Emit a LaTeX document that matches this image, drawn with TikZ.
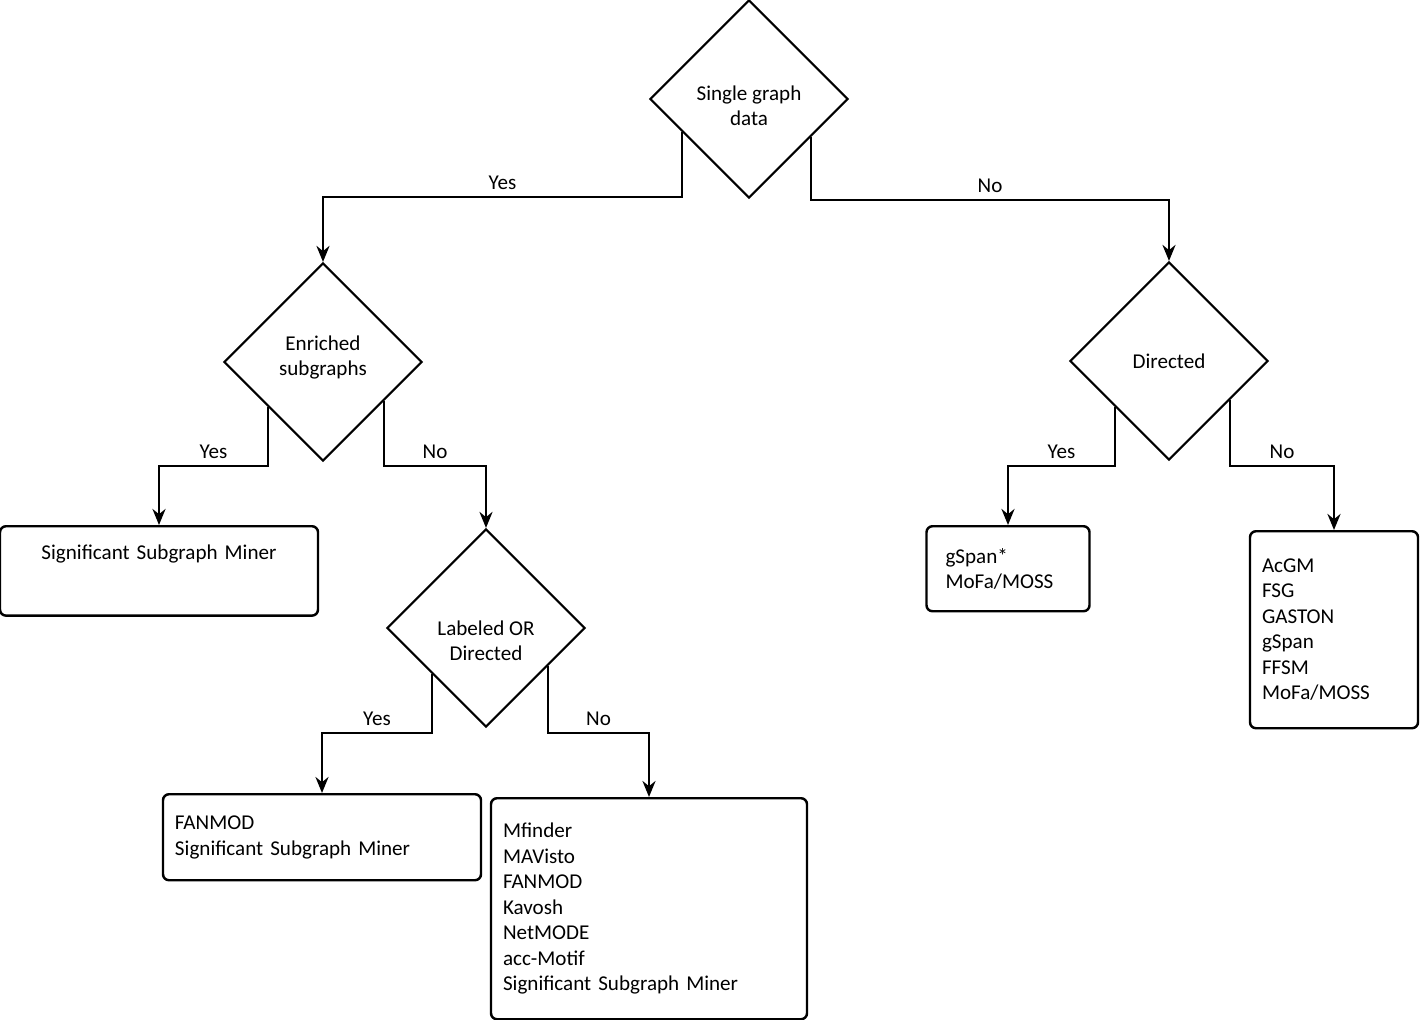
\documentclass[tikz,border=0pt]{standalone}
\usepackage{fontspec}
\setmainfont{Carlito}
\usetikzlibrary{arrows.meta, positioning, shapes.geometric, calc}

\begin{document}
\begin{tikzpicture}[
  x=0.2mm, y=-0.2mm,
  every node/.style={font=\fontsize{12}{14.5}\selectfont},
  decision/.style={draw, diamond, aspect=1, inner sep=0pt, minimum width=39.6mm,
                   minimum height=39.6mm, align=center, line width=1.2pt},
  result/.style={draw, rounded corners=1.2mm, align=left, line width=1.4pt,
                 inner xsep=2.4mm, anchor=north},
  arr/.style={-{Stealth[length=3.2mm,width=2.6mm]}, line width=1.5pt},
  ans/.style={above, inner sep=3.5pt}
]
\useasboundingbox (0,0) rectangle (1420,1020);

% questions
\node[decision, text height=30.3pt, text depth=0pt] (single) at (749,99) {Single graph\\data};
\node[decision, text height=23.5pt, text depth=8.1pt] (enriched) at (323,362) {Enriched\\subgraphs};
\node[decision, text height=37.1pt, text depth=0pt] (labeled) at (486,628) {Labeled OR\\Directed};
\node[decision] (directed) at (1169,361) {Directed};

% answers
\node[result, align=center, text width=58.8mm, text height=15.7pt, text depth=28.5pt]
  (ssm) at (159,525) {Significant Subgraph Miner};
\node[result, text width=58.8mm, minimum height=17.2mm] (fanmod) at (322,793)
  {FANMOD\\Significant Subgraph Miner};
\node[result, text width=58.4mm, minimum height=44.2mm] (motifs) at (649,797)
  {Mfinder\\MAVisto\\FANMOD\\Kavosh\\NetMODE\\acc-Motif\\Significant Subgraph Miner};
\node[result, inner xsep=3.8mm, text width=25mm, minimum height=17mm] (gspanstar) at (1008,525)
  {gSpan*\\MoFa/MOSS};
\node[result, text width=28.8mm, minimum height=39.4mm] (miners) at (1334,530)
  {AcGM\\FSG\\GASTON\\gSpan\\FFSM\\MoFa/MOSS};

\coordinate (h0l) at (0,197);
\coordinate (h0r) at (0,200);
\coordinate (h1) at (0,466);
\coordinate (h2) at (0,733);

\draw[arr] ($(single.west)!0.33!(single.south)$) |- node[ans,pos=0.75]{Yes}
  (enriched.north |- h0l) -- (enriched.north);
\draw[arr] ($(single.east)!0.38!(single.south)$) |- node[ans,pos=0.75]{No}
  (directed.north |- h0r) -- (directed.north);
\draw[arr] ($(enriched.west)!0.45!(enriched.south)$) |- node[ans,pos=0.75]{Yes}
  (ssm.north |- h1) -- (ssm.north);
\draw[arr] ($(enriched.east)!0.39!(enriched.south)$) |- node[ans,pos=0.75]{No}
  (labeled.north |- h1) -- (labeled.north);
\draw[arr] ($(labeled.west)!0.46!(labeled.south)$) |- node[ans,pos=0.75]{Yes}
  (fanmod.north |- h2) -- (fanmod.north);
\draw[arr] ($(labeled.east)!0.38!(labeled.south)$) |- node[ans,pos=0.75]{No}
  (motifs.north |- h2) -- (motifs.north);
\draw[arr] ($(directed.west)!0.46!(directed.south)$) |- node[ans,pos=0.75]{Yes}
  (gspanstar.north |- h1) -- (gspanstar.north);
\draw[arr] ($(directed.east)!0.39!(directed.south)$) |- node[ans,pos=0.75]{No}
  (miners.north |- h1) -- (miners.north);
\end{tikzpicture}
\end{document}
